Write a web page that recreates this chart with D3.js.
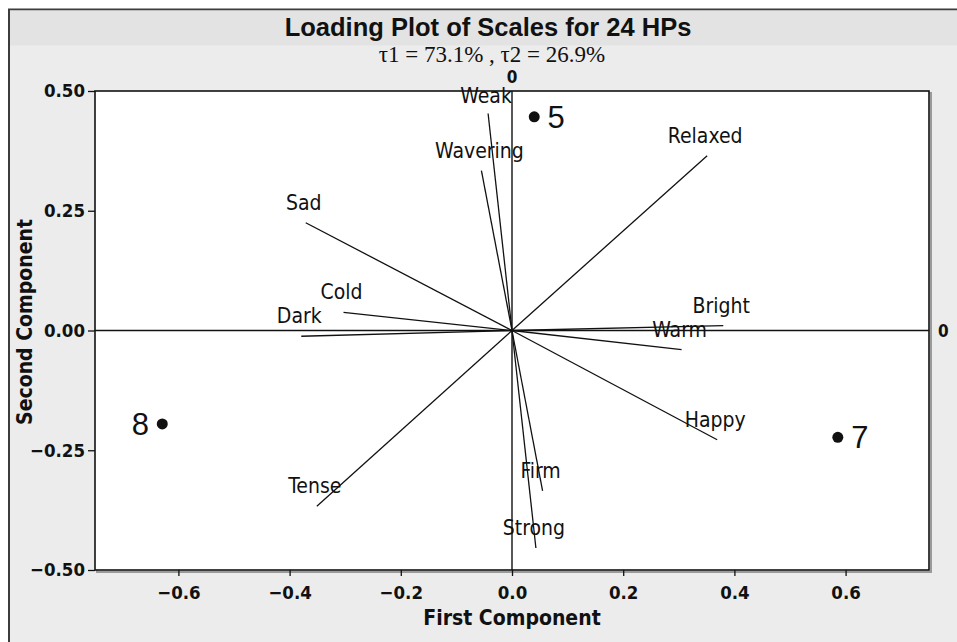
<!DOCTYPE html>
<html>
<head>
<meta charset="utf-8">
<script src="https://cdn.jsdelivr.net/npm/d3@7"></script>
<style>
  body { margin: 0; background: #fff; }
  .tick text { font-family: "DejaVu Sans Condensed", "DejaVu Sans", sans-serif; font-stretch: condensed; font-weight: bold; font-size: 18.5px; fill: #111; }
  .axisTitle { font-family: "DejaVu Sans Condensed", "DejaVu Sans", sans-serif; font-stretch: condensed; font-weight: bold; font-size: 21px; fill: #111; }
  .varLabel { font-family: "DejaVu Sans Condensed", "DejaVu Sans", sans-serif; font-stretch: condensed; font-size: 21px; fill: #111; }
  .zeroLabel { font-family: "DejaVu Sans Condensed", "DejaVu Sans", sans-serif; font-stretch: condensed; font-weight: bold; font-size: 17px; fill: #111; }
</style>
</head>
<body>
<svg id="chart" width="957" height="642"></svg>
<script>
// loadings of the 12 scales (first, second component)
var varNames = ['Weak', 'Wavering', 'Sad', 'Cold', 'Dark', 'Bright', 'Warm', 'Happy', 'Relaxed', 'Tense', 'Firm', 'Strong'];
var loadX = [-0.043, -0.055, -0.371, -0.303, -0.379, 0.380, 0.305, 0.369, 0.351, -0.351, 0.055, 0.043];
var loadY = [0.453, 0.334, 0.225, 0.038, -0.012, 0.010, -0.040, -0.228, 0.365, -0.367, -0.335, -0.454];

// the three HP points shown
var pointIds = ['5', '7', '8'];
var pointX = [0.040, 0.586, -0.629];
var pointY = [0.446, -0.223, -0.195];

var xTicks = [-0.6, -0.4, -0.2, 0.0, 0.2, 0.4, 0.6];
var yTicks = [-0.50, -0.25, 0.00, 0.25, 0.50];

var svg = d3.select('#chart');

var margin = {top: 91, right: 28, bottom: 72, left: 95},
    width = 957 - margin.left - margin.right,
    height = 642 - margin.top - margin.bottom;

// gray panel behind everything
svg.append('rect')
    .attr('x', 9).attr('y', 9.5)
    .attr('width', 960).attr('height', 640)
    .attr('fill', '#ececec')
    .attr('stroke', '#3c3c3c')
    .attr('stroke-width', 2);
svg.append('rect')
    .attr('x', 10).attr('y', 10.5)
    .attr('width', 950).attr('height', 35)
    .attr('fill', '#e3e3e3');

// title + subtitle
svg.append('text')
    .attr('x', 488).attr('y', 36)
    .attr('text-anchor', 'middle')
    .style('font-family', '"Liberation Sans", Arial, sans-serif')
    .style('font-weight', 'bold')
    .style('font-size', '25.5px')
    .style('fill', '#111')
    .text('Loading Plot of Scales for 24 HPs');
svg.append('text')
    .attr('x', 492).attr('y', 62)
    .attr('text-anchor', 'middle')
    .style('font-family', '"Liberation Serif", "Times New Roman", serif')
    .style('font-size', '23px')
    .style('fill', '#111')
    .text('τ1 = 73.1% , τ2 = 26.9%');

var xScale = d3.scaleLinear().domain([-0.75, 0.75]).range([0, width]);
var yScale = d3.scaleLinear().domain([-0.5, 0.5]).range([height, 0]);

var g = svg.append('g')
    .attr('transform', 'translate(' + margin.left + ',' + margin.top + ')');

// plot area with a soft shadow
g.append('rect')
    .attr('x', 2).attr('y', 2)
    .attr('width', width).attr('height', height)
    .attr('fill', 'none')
    .attr('stroke', '#9a9a9a')
    .attr('stroke-width', 2);
g.append('rect')
    .attr('width', width).attr('height', height)
    .attr('fill', '#fff')
    .attr('stroke', '#111')
    .attr('stroke-width', 1.6);

var xAxis = d3.axisBottom(xScale).tickValues(xTicks)
    .tickFormat(d3.format('.1f')).tickSize(6).tickSizeOuter(0);
var yAxis = d3.axisLeft(yScale).tickValues(yTicks)
    .tickFormat(d3.format('.2f')).tickSize(7).tickSizeOuter(0);

var xAxisGroup = g.append('g')
    .attr('transform', 'translate(0,' + height + ')')
    .call(xAxis);
xAxisGroup.select('.domain').remove();
xAxisGroup.selectAll('.tick line').attr('stroke', '#111').attr('stroke-width', 1.3);
xAxisGroup.selectAll('.tick text').attr('y', 16).attr('dy', '0.71em');

var yAxisGroup = g.append('g').call(yAxis);
yAxisGroup.select('.domain').remove();
yAxisGroup.selectAll('.tick line').attr('stroke', '#111').attr('stroke-width', 1.3);
yAxisGroup.selectAll('.tick text').attr('x', -10);

// reference lines through zero
g.append('line')
    .attr('x1', 0).attr('x2', width)
    .attr('y1', yScale(0)).attr('y2', yScale(0))
    .attr('stroke', '#111').attr('stroke-width', 1.4);
g.append('line')
    .attr('x1', xScale(0)).attr('x2', xScale(0))
    .attr('y1', 0).attr('y2', height)
    .attr('stroke', '#111').attr('stroke-width', 1.4);

g.append('text').attr('class', 'zeroLabel')
    .attr('x', xScale(0)).attr('y', -8)
    .attr('text-anchor', 'middle')
    .text('0');
g.append('text').attr('class', 'zeroLabel')
    .attr('x', width + 9).attr('y', yScale(0))
    .attr('dy', '0.36em')
    .text('0');

// loading vectors
var idx = d3.range(varNames.length);

g.selectAll('line.vec')
    .data(idx)
    .enter().append('line')
    .attr('class', 'vec')
    .attr('x1', xScale(0)).attr('y1', yScale(0))
    .attr('x2', function(i) { return xScale(loadX[i]); })
    .attr('y2', function(i) { return yScale(loadY[i]); })
    .attr('stroke', '#111')
    .attr('stroke-width', 1.3);

g.selectAll('text.varLabel')
    .data(idx)
    .enter().append('text')
    .attr('class', 'varLabel')
    .attr('text-anchor', 'middle')
    .attr('x', function(i) { return xScale(loadX[i]) - 2; })
    .attr('y', function(i) { return yScale(loadY[i]) - (varNames[i] == 'Weak' ? 11 : 13); })
    .text(function(i) { return varNames[i]; });

// HP points
var pIdx = d3.range(pointIds.length);

g.selectAll('circle.pt')
    .data(pIdx)
    .enter().append('circle')
    .attr('class', 'pt')
    .attr('cx', function(i) { return xScale(pointX[i]); })
    .attr('cy', function(i) { return yScale(pointY[i]); })
    .attr('r', 5.5)
    .attr('fill', '#111');

g.selectAll('text.ptLabel')
    .data(pIdx)
    .enter().append('text')
    .attr('class', 'ptLabel')
    .attr('x', function(i) { return xScale(pointX[i]) + (pointX[i] < 0 ? -22 : 22); })
    .attr('y', function(i) { return yScale(pointY[i]); })
    .attr('dy', '0.36em')
    .attr('text-anchor', 'middle')
    .style('font-family', '"Liberation Sans", Arial, sans-serif')
    .style('font-size', '31px')
    .style('fill', '#111')
    .text(function(i) { return pointIds[i]; });

// axis titles
svg.append('text').attr('class', 'axisTitle')
    .attr('x', margin.left + xScale(0)).attr('y', 625)
    .attr('text-anchor', 'middle')
    .text('First Component');
svg.append('text').attr('class', 'axisTitle')
    .attr('transform', 'translate(32,322) rotate(-90)')
    .attr('text-anchor', 'middle')
    .text('Second Component');
</script>
</body>
</html>
